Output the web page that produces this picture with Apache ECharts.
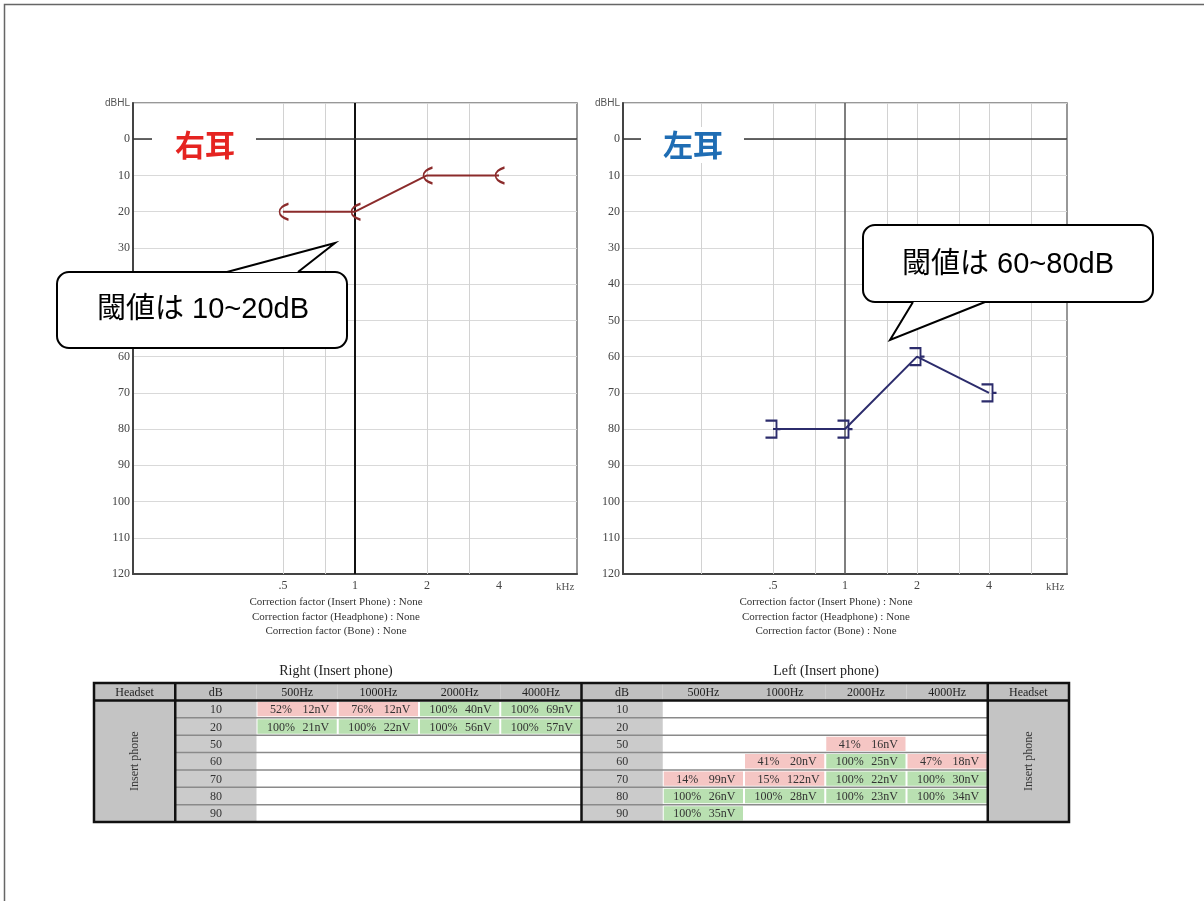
<!DOCTYPE html>
<html><head><meta charset="utf-8">
<script src="https://cdn.jsdelivr.net/npm/echarts@6/dist/echarts.min.js"></script>
<style>html,body{margin:0;padding:0;background:#fff}#c{width:1204px;height:901px}</style>
</head><body><div id="c"></div>
<script>
// ---------- data ----------
const freqsKHz = [0.5, 1, 2, 4];
const rightEarDB = [20, 20, 10, 10];
const leftEarDB = [80, 80, 60, 70];
const xTickFreqs = [0.5, 1, 2, 4];
const xTickLabels = ['.5', '1', '2', '4'];
const rightChartGridFreqs = [0.5, 0.75, 2, 3];
const leftChartGridFreqs = [0.25, 0.5, 0.75, 1.5, 2, 3, 4, 6];
const tableFreqs = ['500Hz', '1000Hz', '2000Hz', '4000Hz'];
const tableLevels = ['10', '20', '50', '60', '70', '80', '90'];
const rightPct = [[52, 76, 100, 100], [100, 100, 100, 100], [null, null, null, null], [null, null, null, null], [null, null, null, null], [null, null, null, null], [null, null, null, null]];
const rightNV  = [[12, 12, 40, 69], [21, 22, 56, 57], [null, null, null, null], [null, null, null, null], [null, null, null, null], [null, null, null, null], [null, null, null, null]];
const leftPct  = [[null, null, null, null], [null, null, null, null], [null, null, 41, null], [null, 41, 100, 47], [14, 15, 100, 100], [100, 100, 100, 100], [100, null, null, null]];
const leftNV   = [[null, null, null, null], [null, null, null, null], [null, null, 16, null], [null, 20, 25, 18], [99, 122, 22, 30], [26, 28, 23, 34], [35, null, null, null]];
const correctionLines = ['Correction factor (Insert Phone) : None', 'Correction factor (Headphone) : None', 'Correction factor (Bone) : None'];

// ---------- helpers ----------
const SERIF = '"Liberation Serif", "DejaVu Serif", serif';
const log2 = Math.log2;
const XMIN = -3.083, XMAX = 3.083;

function xAxisFor(gi) {
  return {
    gridIndex: gi, type: 'value', min: XMIN, max: XMAX,
    axisLine: { show: true, onZero: false, lineStyle: { color: '#444', width: 2 } },
    axisTick: { show: false }, splitLine: { show: false },
    axisLabel: {
      customValues: xTickFreqs.map(f => log2(f)),
      margin: 6, color: '#444', fontFamily: SERIF, fontSize: 12,
      formatter: v => { const i = xTickFreqs.findIndex(f => Math.abs(log2(f) - v) < 1e-6); return i >= 0 ? xTickLabels[i] : ''; }
    },
    name: 'kHz', nameLocation: 'end', nameGap: -21,
    nameTextStyle: { color: '#555', fontFamily: SERIF, fontSize: 11, verticalAlign: 'top', padding: [8, 0, 0, 0] }
  };
}
function yAxisFor(gi) {
  return {
    gridIndex: gi, type: 'value', inverse: true, min: -10, max: 120, interval: 10,
    axisLine: { show: true, onZero: false, lineStyle: { color: '#444', width: 2 } },
    axisTick: { show: false },
    splitLine: { show: true, lineStyle: { color: '#d9d9d9', width: 1 } },
    axisLabel: {
      margin: 3, color: '#444', fontFamily: SERIF, fontSize: 12,
      formatter: v => v === -10 ? '{u|dBHL}' : String(v),
      rich: { u: { fontFamily: '"Liberation Sans", sans-serif', fontSize: 10, color: '#555' } }
    }
  };
}
function gridLines(freqs, oneStyle) {
  const data = freqs.map(f => ({ xAxis: log2(f), lineStyle: { color: '#d2d2d2', width: 1, type: 'solid' } }));
  data.push({ xAxis: 0, lineStyle: oneStyle });
  data.push({ yAxis: 0, lineStyle: { color: '#333', width: 1.5, type: 'solid' } });
  return { silent: true, symbol: 'none', z: 1, label: { show: false }, data: data, animation: false };
}

// ---------- table cells ----------
const headTexts = ['Headset', 'dB'].concat(tableFreqs, ['dB'], tableFreqs, ['Headset']);
const cells = [];
headTexts.forEach((t, col) => cells.push({ kind: 'head', col, row: 0, text: t }));
cells.push({ kind: 'hs', col: 0, row: 1 });
cells.push({ kind: 'hs', col: 11, row: 1 });
tableLevels.forEach((lv, r) => {
  cells.push({ kind: 'db', col: 1, row: r + 1, text: lv });
  cells.push({ kind: 'db', col: 6, row: r + 1, text: lv });
  for (let k = 0; k < 4; k++) {
    cells.push({ kind: 'data', col: 2 + k, row: r + 1, pct: rightPct[r][k], nv: rightNV[r][k] });
    cells.push({ kind: 'data', col: 7 + k, row: r + 1, pct: leftPct[r][k], nv: leftNV[r][k] });
  }
});
cells.push({ kind: 'frame', col: 0, row: 0 });

function renderCell(params, api) {
  const c = cells[params.dataIndex];
  const sz = api.size([1, 1]);
  const w = sz[0], h = sz[1];
  const ctr = api.coord([c.col, c.row]);
  const x0 = ctr[0] - w / 2, y0 = ctr[1] - h / 2;
  const font = '12px ' + SERIF;
  const ch = [];
  if (c.kind === 'head') {
    ch.push({ type: 'rect', shape: { x: x0, y: y0, width: w, height: h }, style: { fill: '#c0c0c0' } });
    ch.push({ type: 'text', style: { text: c.text, x: ctr[0], y: ctr[1] + 1, align: 'center', verticalAlign: 'middle', font, fill: '#222' } });
  } else if (c.kind === 'hs') {
    const bot = api.coord([c.col, 7])[1] + h / 2;
    ch.push({ type: 'rect', shape: { x: x0, y: y0, width: w, height: bot - y0 }, style: { fill: '#c4c4c4' } });
    ch.push({ type: 'text', x: ctr[0], y: (y0 + bot) / 2, rotation: Math.PI / 2,
      style: { text: 'Insert phone', x: 0, y: 0, align: 'center', verticalAlign: 'middle', font, fill: '#333' } });
  } else if (c.kind === 'db') {
    ch.push({ type: 'rect', shape: { x: x0, y: y0, width: w, height: h }, style: { fill: '#cbcbcb' } });
    ch.push({ type: 'text', style: { text: c.text, x: ctr[0], y: ctr[1] + 1, align: 'center', verticalAlign: 'middle', font, fill: '#333' } });
  } else if (c.kind === 'data') {
    if (c.pct != null) {
      ch.push({ type: 'rect', shape: { x: x0 + 1, y: y0 + 1.5, width: w - 2, height: h - 3 },
        style: { fill: c.pct === 100 ? '#b9e0b1' : '#f5c6c4' } });
      ch.push({ type: 'text', style: { text: c.pct + '%', x: x0 + w * 0.3, y: ctr[1] + 1, align: 'center', verticalAlign: 'middle', font, fill: '#333' } });
      ch.push({ type: 'text', style: { text: c.nv + 'nV', x: x0 + w * 0.73, y: ctr[1] + 1, align: 'center', verticalAlign: 'middle', font, fill: '#333' } });
    }
  } else if (c.kind === 'frame') {
    const L = x0, T = y0;
    const R = api.coord([11, 0])[0] + w / 2;
    const B = api.coord([0, 7])[1] + h / 2;
    const edge = i => api.coord([i, 0])[0] - w / 2;
    const rowEdge = r => api.coord([0, r])[1] - h / 2;
    for (let r = 2; r <= 7; r++) {
      const yy = rowEdge(r);
      ch.push({ type: 'line', shape: { x1: edge(1), y1: yy, x2: edge(6), y2: yy }, style: { stroke: '#8a8a8a', lineWidth: 1.5 } });
      ch.push({ type: 'line', shape: { x1: edge(6), y1: yy, x2: edge(11), y2: yy }, style: { stroke: '#8a8a8a', lineWidth: 1.5 } });
    }
    const blk = { stroke: '#111', lineWidth: 2.5 };
    ch.push({ type: 'line', shape: { x1: L, y1: rowEdge(1), x2: R, y2: rowEdge(1) }, style: blk });
    [1, 6, 11].forEach(i => ch.push({ type: 'line', shape: { x1: edge(i), y1: T, x2: edge(i), y2: B }, style: blk }));
    ch.push({ type: 'rect', shape: { x: L, y: T, width: R - L, height: B - T }, style: { fill: 'none', stroke: '#111', lineWidth: 2.5 } });
  }
  return { type: 'group', children: ch };
}

// ---------- callout bubble builder (annotation, not data) ----------
function bubble(box, tail) {
  return [
    { type: 'rect', z: 100, shape: { x: box[0], y: box[1], width: box[2], height: box[3], r: 12 }, style: { fill: '#fff', stroke: '#000', lineWidth: 2 } },
    { type: 'polygon', z: 101, shape: { points: tail }, style: { fill: '#fff', stroke: null } },
    { type: 'polyline', z: 102, shape: { points: tail }, style: { fill: null, stroke: '#000', lineWidth: 2 } }
  ];
}

// ---------- chart ----------
const chart = echarts.init(document.getElementById('c'), null, { renderer: 'canvas' });
const txt = (text, x, y, font, fill, align, z) => ({ type: 'text', z: z || 100, style: { text, x, y, font, fill, align: align || 'center', verticalAlign: 'middle' } });

const option = {
  animation: false,
  backgroundColor: '#fff',
  grid: [
    { left: 133, top: 103, width: 444, height: 471, show: true, borderColor: '#777', borderWidth: 1.5, backgroundColor: '#fff' },
    { left: 623, top: 103, width: 444, height: 471, show: true, borderColor: '#777', borderWidth: 1.5, backgroundColor: '#fff' },
    { left: 94, top: 683, width: 975, height: 139 }
  ],
  xAxis: [
    xAxisFor(0), xAxisFor(1),
    { gridIndex: 2, type: 'category', data: headTexts.map((t, i) => 'c' + i), show: false }
  ],
  yAxis: [
    yAxisFor(0), yAxisFor(1),
    { gridIndex: 2, type: 'category', inverse: true, data: ['h'].concat(tableLevels), show: false }
  ],
  series: [
    {
      name: 'Right', type: 'line', xAxisIndex: 0, yAxisIndex: 0, z: 3,
      data: freqsKHz.map((f, i) => [log2(f), rightEarDB[i]]),
      lineStyle: { color: '#8b2b2b', width: 2 },
      symbol: 'path://M10,0 C3,2 0,5 0,8 C0,11 3,14 10,16', symbolSize: [9, 16], symbolOffset: [1, 0],
      itemStyle: { color: 'rgba(0,0,0,0)', borderColor: '#8b2b2b', borderWidth: 2 },
      markLine: gridLines(rightChartGridFreqs, { color: '#111', width: 2, type: 'solid' })
    },
    {
      name: 'Left', type: 'line', xAxisIndex: 1, yAxisIndex: 1, z: 3,
      data: freqsKHz.map((f, i) => [log2(f), leftEarDB[i]]),
      lineStyle: { color: '#2c2c6c', width: 2 },
      symbol: 'path://M0,0 L11,0 L11,17 L0,17 M11,8.5 L15,8.5', symbolSize: [15, 17],
      itemStyle: { color: 'rgba(0,0,0,0)', borderColor: '#2c2c6c', borderWidth: 2 },
      markLine: gridLines(leftChartGridFreqs, { color: '#555', width: 1.5, type: 'solid' })
    },
    {
      name: 'table', type: 'custom', xAxisIndex: 2, yAxisIndex: 2, z: 2,
      data: cells.map(c => [c.col, c.row]),
      encode: { x: 0, y: 1 },
      renderItem: renderCell, silent: true
    }
  ],
  graphic: [
    { type: 'rect', z: 0, shape: { x: 4.5, y: 4.5, width: 1400, height: 1100 }, style: { fill: 'none', stroke: '#666', lineWidth: 1.5 } },
    { type: 'text', z: 100, x: 152, y: 145, style: { text: '右耳', font: 'bold 30px "Noto Sans CJK JP", sans-serif', fill: '#e52421', backgroundColor: '#fff', padding: [3, 21, 3, 23], verticalAlign: 'middle' } },
    { type: 'text', z: 100, x: 641, y: 145, style: { text: '左耳', font: 'bold 30px "Noto Sans CJK JP", sans-serif', fill: '#1f6db4', backgroundColor: '#fff', padding: [3, 21, 3, 22], verticalAlign: 'middle' } }
  ].concat(
    bubble([57, 272, 290, 76], [[227, 272], [335, 243], [298, 272]]),
    bubble([863, 225, 290, 77], [[985, 302], [890, 340], [913, 302]]),
    [
      txt('閾値は 10~20dB', 97, 310, '29px "Liberation Sans", "Noto Sans CJK JP", sans-serif', '#000', 'left', 103),
      txt('閾値は 60~80dB', 902, 265, '29px "Liberation Sans", "Noto Sans CJK JP", sans-serif', '#000', 'left', 103),
      txt(correctionLines[0], 336, 602, '11px ' + SERIF, '#333'),
      txt(correctionLines[1], 336, 617, '11px ' + SERIF, '#333'),
      txt(correctionLines[2], 336, 631, '11px ' + SERIF, '#333'),
      txt(correctionLines[0], 826, 602, '11px ' + SERIF, '#333'),
      txt(correctionLines[1], 826, 617, '11px ' + SERIF, '#333'),
      txt(correctionLines[2], 826, 631, '11px ' + SERIF, '#333'),
      txt('Right (Insert phone)', 336, 671, '14px ' + SERIF, '#222'),
      txt('Left (Insert phone)', 826, 671, '14px ' + SERIF, '#222')
    ])
};
chart.setOption(option);
</script>
</body></html>
